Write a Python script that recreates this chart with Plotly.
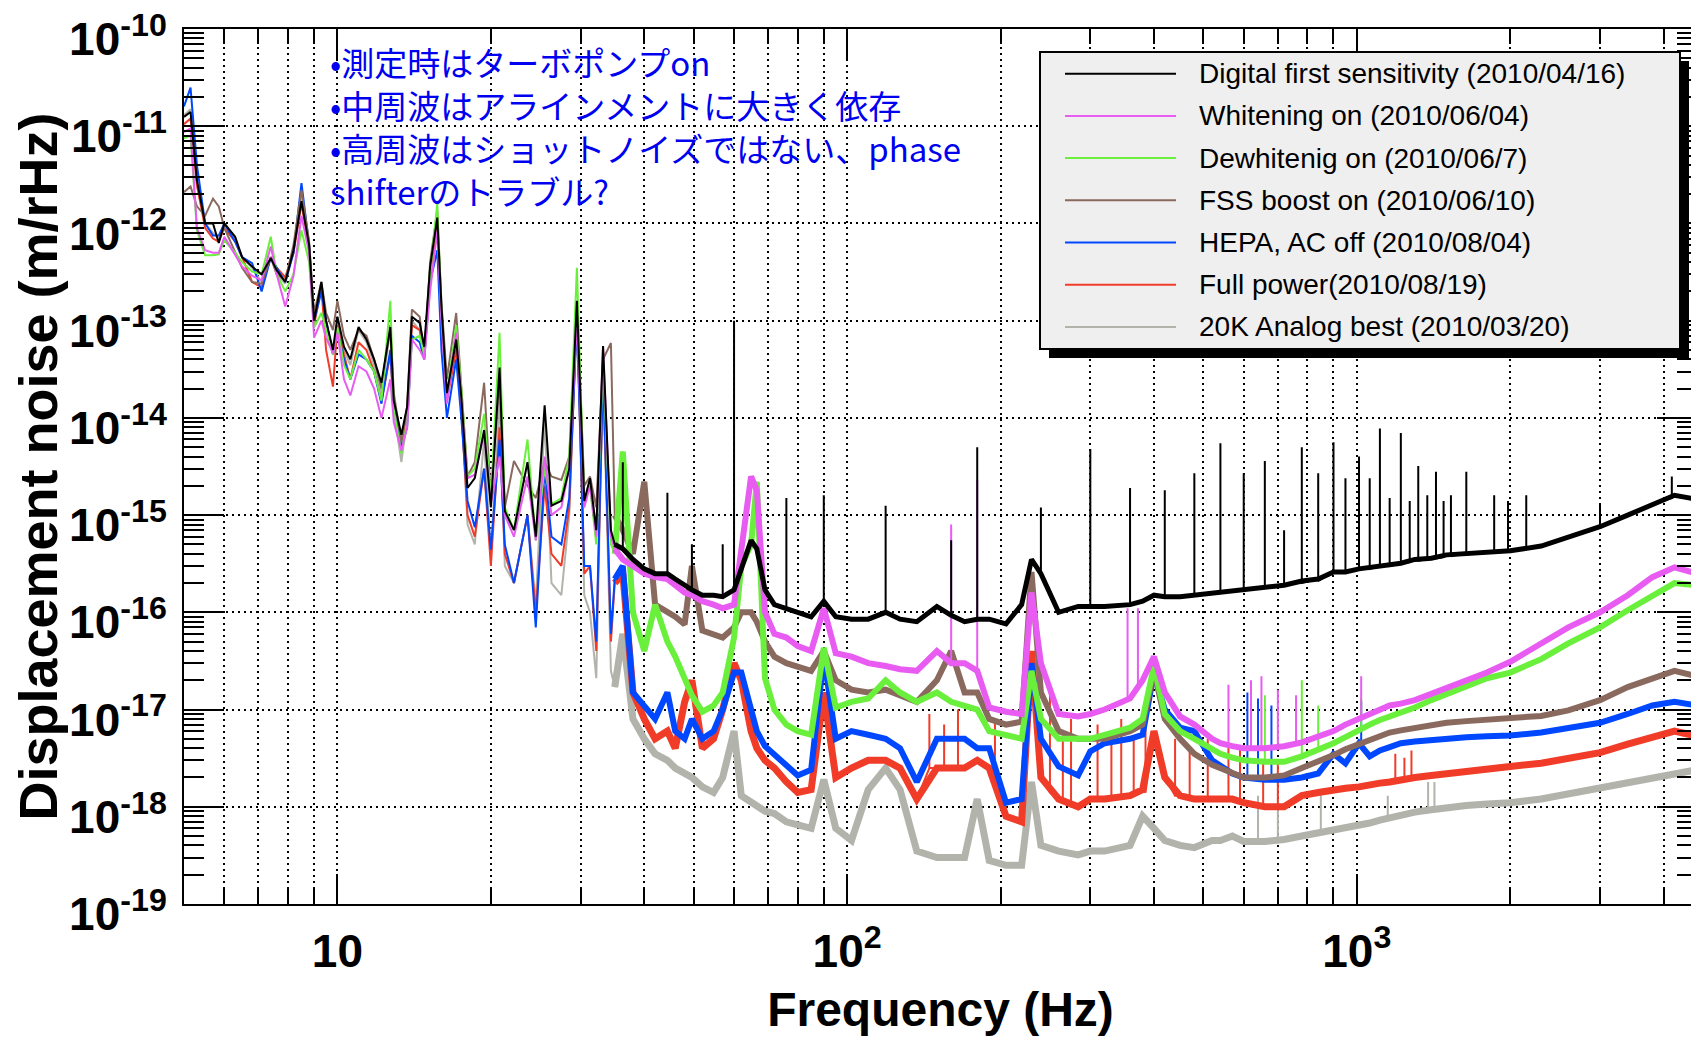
import plotly.graph_objects as go

# ---------------- data ----------------
FREQ = [5.0, 5.15, 5.3, 5.5, 5.7, 5.85, 6.0, 6.3, 6.5, 6.8,
        7.1, 7.4, 7.6, 7.9, 8.2, 8.5, 8.8, 9.0, 9.3, 9.5,
        9.8, 10.0, 10.3, 10.6, 11.0, 11.4, 11.8, 12.2, 12.7, 12.9,
        13.35, 13.7, 14.0, 14.5, 14.8, 15.2, 15.7, 16.0, 16.4, 17.1,
        17.5, 18.0, 18.6, 19.4, 20.0, 20.8, 21.3, 22.2, 23.6, 24.5,
        25.5, 26.3, 27.5, 28.5, 29.5, 30.5, 31.3, 32.2, 33.2, 34.4,
        35.0, 36.3, 38.0, 40.0, 42.0, 44.4, 46.0, 48.0, 49.6, 52.0,
        54.7, 57.0, 60.0, 62.0, 64.8, 66.5, 69.0, 72.0, 76.0, 80.0,
        85.0, 90.0, 95.0, 102.0, 110.0, 119.0, 127.0, 137.0, 150.0, 160.0,
        170.0, 180.0, 190.0, 205.0, 220.0, 230.0, 240.0, 260.0, 284.0, 300.0,
        320.0, 359.0, 380.0, 400.0, 420.0, 450.0, 480.0, 520.0, 540.0, 570.0,
        600.0, 660.0, 720.0, 780.0, 840.0, 900.0, 950.0, 1010.0, 1060.0, 1110.0,
        1160.0, 1220.0, 1300.0, 1400.0, 1500.0, 1640.0, 1800.0, 2000.0, 2300.0, 2600.0,
        3000.0, 3400.0, 3800.0, 4200.0, 4650.0]

DIGITAL_FIRST = [
    1.25e-11, 1.4e-11, 2.8e-12, 1.0e-12, 1.0e-12, 6.3e-13, 1.0e-12, 7.3e-13, 4.5e-13, 3.6e-13,
    3.0e-13, 4.4e-13, 3.3e-13, 2.5e-13, 5.3e-13, 1.7e-12, 6.0e-13, 1.0e-13, 2.5e-13, 1.0e-13,
    5.0e-14, 1.1e-13, 5.4e-14, 4.0e-14, 8.6e-14, 6.4e-14, 4.0e-14, 2.3e-14, 8.6e-14, 1.5e-14,
    6.7e-15, 1.3e-14, 1.1e-13, 9.5e-14, 5.4e-14, 3.6e-13, 1.15e-12, 1.4e-13, 1.8e-14, 6.4e-14,
    1.65e-14, 1.9e-15, 2.4e-15, 7.5e-15, 1.2e-15, 3.3e-14, 1.1e-15, 7.0e-16, 3.5e-15, 6.0e-16,
    1.35e-14, 1.25e-15, 1.4e-15, 3.0e-15, 1.6e-13, 1.4e-15, 2.4e-15, 7.0e-16, 5.5e-14, 7.0e-16,
    5.0e-16, 4.5e-16, 3.5e-16, 2.8e-16, 2.5e-16, 2.5e-16, 2.2e-16, 1.9e-16, 1.7e-16, 1.5e-16,
    1.5e-16, 1.45e-16, 1.7e-16, 2.8e-16, 5.5e-16, 4.5e-16, 1.7e-16, 1.2e-16, 1.1e-16, 1.0e-16,
    9.0e-17, 1.3e-16, 9.0e-17, 8.5e-17, 8.5e-17, 1.0e-16, 8.5e-17, 8.0e-17, 1.15e-16, 9.3e-17,
    8.0e-17, 8.5e-17, 8.5e-17, 7.6e-17, 1.2e-16, 3.5e-16, 2.5e-16, 1.0e-16, 1.15e-16, 1.15e-16,
    1.15e-16, 1.2e-16, 1.3e-16, 1.5e-16, 1.45e-16, 1.45e-16, 1.5e-16, 1.6e-16, 1.6e-16, 1.65e-16,
    1.7e-16, 1.8e-16, 1.9e-16, 2.1e-16, 2.2e-16, 2.6e-16, 2.6e-16, 2.8e-16, 2.9e-16, 3.0e-16,
    3.1e-16, 3.2e-16, 3.5e-16, 3.6e-16, 3.9e-16, 4.0e-16, 4.2e-16, 4.3e-16, 4.8e-16, 5.9e-16,
    7.6e-16, 1.0e-15, 1.3e-15, 1.6e-15, 1.45e-15]

WHITENING_ON = [
    8.7e-12, 9.5e-12, 9.0e-13, 5.3e-13, 5.0e-13, 5.0e-13, 7.3e-13, 4.8e-13, 3.6e-13, 2.9e-13,
    2.6e-13, 5.8e-13, 3.0e-13, 1.4e-13, 2.9e-13, 1.2e-12, 5.0e-13, 6.7e-14, 1.0e-13, 6.7e-14,
    4.6e-14, 7.5e-14, 2.5e-14, 1.7e-14, 3.4e-14, 3.0e-14, 2.0e-14, 1.0e-14, 2.5e-14, 9.0e-15,
    4.6e-15, 8.0e-15, 6.4e-14, 5.0e-14, 4.0e-14, 2.0e-13, 8.5e-13, 1.0e-13, 1.4e-14, 7.5e-14,
    1.5e-14, 2.4e-15, 2.6e-15, 7.0e-15, 1.3e-15, 4.0e-15, 1.0e-15, 6.0e-16, 2.5e-15, 5.5e-16,
    4.0e-15, 1.0e-15, 1.2e-15, 3.0e-15, 1.0e-13, 1.2e-15, 2.0e-15, 6.0e-16, 5.4e-14, 6.0e-16,
    4.5e-16, 3.5e-16, 3.0e-16, 2.5e-16, 2.3e-16, 2.2e-16, 1.9e-16, 1.6e-16, 1.5e-16, 1.3e-16,
    1.2e-16, 1.1e-16, 1.2e-16, 4.0e-16, 2.5e-15, 1.8e-15, 1.0e-16, 6.0e-17, 5.5e-17, 4.5e-17,
    4.0e-17, 1.1e-16, 3.8e-17, 3.5e-17, 3.0e-17, 2.8e-17, 2.6e-17, 2.5e-17, 4.0e-17, 3.0e-17,
    3.0e-17, 2.5e-17, 1.05e-17, 9.5e-18, 9.0e-18, 1.6e-16, 3.0e-17, 9.0e-18, 8.5e-18, 9.0e-18,
    1.0e-17, 1.3e-17, 2.0e-17, 3.5e-17, 1.5e-17, 8.5e-18, 7.0e-18, 5.0e-18, 4.5e-18, 4.2e-18,
    4.0e-18, 4.0e-18, 4.2e-18, 4.6e-18, 5.2e-18, 6.0e-18, 7.0e-18, 8.0e-18, 9.0e-18, 1.0e-17,
    1.1e-17, 1.15e-17, 1.25e-17, 1.45e-17, 1.65e-17, 2.0e-17, 2.4e-17, 3.1e-17, 4.8e-17, 7.0e-17,
    1.0e-16, 1.5e-16, 2.3e-16, 2.9e-16, 2.5e-16]

DEWHITENING_ON = [
    7.5e-12, 8.0e-12, 8.5e-13, 4.7e-13, 4.7e-13, 4.8e-13, 6.7e-13, 5.0e-13, 4.0e-13, 3.2e-13,
    3.0e-13, 7.3e-13, 3.0e-13, 2.0e-13, 3.0e-13, 8.5e-13, 4.0e-13, 8.5e-14, 1.2e-13, 8.0e-14,
    4.5e-14, 8.5e-14, 3.5e-14, 2.5e-14, 5.0e-14, 4.0e-14, 3.0e-14, 1.5e-14, 1.6e-13, 1.2e-14,
    4.3e-15, 9.0e-15, 6.4e-14, 7.0e-14, 4.5e-14, 3.0e-13, 1.6e-12, 1.2e-13, 1.7e-14, 9.0e-14,
    2.0e-14, 2.5e-15, 3.0e-15, 1.1e-14, 1.5e-15, 7.5e-14, 1.2e-15, 7.0e-16, 6.0e-15, 5.5e-16,
    3.0e-15, 1.3e-15, 1.5e-15, 4.0e-15, 3.5e-13, 1.3e-15, 2.0e-15, 5.0e-16, 4.0e-14, 5.0e-16,
    4.0e-16, 4.5e-15, 1.0e-16, 4.0e-17, 1.2e-16, 5.0e-17, 3.5e-17, 2.1e-17, 1.4e-17, 9.5e-18,
    1.1e-17, 1.5e-17, 5.5e-17, 3.0e-16, 5.0e-16, 2.2e-15, 2.1e-17, 1.0e-17, 7.0e-18, 6.0e-18,
    5.5e-18, 4.3e-17, 1.05e-17, 1.2e-17, 1.3e-17, 2.0e-17, 1.5e-17, 1.2e-17, 1.5e-17, 1.2e-17,
    1.1e-17, 1.0e-17, 6.0e-18, 5.5e-18, 5.0e-18, 2.5e-17, 8.0e-18, 5.0e-18, 5.0e-18, 5.0e-18,
    5.5e-18, 6.5e-18, 8.0e-18, 2.8e-17, 9.0e-18, 6.0e-18, 5.0e-18, 4.0e-18, 3.5e-18, 3.2e-18,
    3.0e-18, 2.9e-18, 2.9e-18, 3.3e-18, 3.8e-18, 4.5e-18, 5.2e-18, 6.2e-18, 7.0e-18, 7.8e-18,
    8.5e-18, 9.2e-18, 1.05e-17, 1.25e-17, 1.45e-17, 1.75e-17, 2.1e-17, 2.4e-17, 3.3e-17, 4.8e-17,
    7.0e-17, 1.05e-16, 1.5e-16, 2.0e-16, 1.9e-16]

FSS_BOOST_ON = [
    2.1e-12, 2.4e-12, 1.5e-12, 1.2e-12, 1.8e-12, 1.5e-12, 9.0e-13, 5.0e-13, 3.5e-13, 2.5e-13,
    2.4e-13, 4.5e-13, 3.0e-13, 2.6e-13, 6.0e-13, 2.2e-12, 6.5e-13, 1.2e-13, 2.5e-13, 1.2e-13,
    8.0e-14, 1.6e-13, 7.0e-14, 5.0e-14, 8.0e-14, 7.0e-14, 4.0e-14, 2.0e-14, 9.0e-14, 1.8e-14,
    5.6e-15, 1.3e-14, 1.3e-13, 1.1e-13, 4.0e-14, 4.0e-13, 1.35e-12, 1.5e-13, 2.5e-14, 1.2e-13,
    2.0e-14, 2.5e-15, 3.5e-15, 2.3e-14, 1.5e-15, 2.5e-14, 1.2e-15, 3.6e-15, 2.0e-15, 1.5e-15,
    3.5e-15, 2.5e-15, 2.3e-15, 4.0e-15, 1.5e-13, 2.0e-15, 2.5e-15, 1.2e-15, 4.0e-14, 5.9e-14,
    1.0e-15, 7.0e-16, 4.0e-16, 2.2e-15, 1.2e-16, 1.0e-16, 9.0e-17, 7.5e-17, 3.0e-16, 6.5e-17,
    6.0e-17, 5.5e-17, 7.0e-17, 1.0e-16, 1.0e-16, 8.0e-17, 5.0e-17, 3.5e-17, 3.0e-17, 2.8e-17,
    2.5e-17, 4.0e-17, 2.0e-17, 1.6e-17, 1.5e-17, 1.6e-17, 1.4e-17, 1.2e-17, 2.0e-17, 4.0e-17,
    1.5e-17, 1.5e-17, 8.0e-18, 7.0e-18, 7.5e-18, 2.6e-16, 1.5e-17, 6.0e-18, 5.0e-18, 5.0e-18,
    5.0e-18, 6.0e-18, 7.0e-18, 2.5e-17, 8.0e-18, 5.0e-18, 3.5e-18, 2.7e-18, 2.5e-18, 2.3e-18,
    2.0e-18, 2.0e-18, 2.1e-18, 2.5e-18, 2.9e-18, 3.4e-18, 3.9e-18, 4.4e-18, 5.0e-18, 5.4e-18,
    5.8e-18, 6.1e-18, 6.5e-18, 7.0e-18, 7.3e-18, 7.6e-18, 7.8e-18, 8.0e-18, 8.6e-18, 9.8e-18,
    1.25e-17, 1.7e-17, 2.1e-17, 2.5e-17, 2.2e-17]

HEPA_AC_OFF = [
    1.6e-11, 2.5e-11, 4.0e-12, 1.0e-12, 7.5e-13, 7.5e-13, 1.0e-12, 6.5e-13, 4.5e-13, 3.9e-13,
    2.0e-13, 4.5e-13, 3.5e-13, 2.5e-13, 5.0e-13, 2.6e-12, 6.0e-13, 1.0e-13, 2.0e-13, 1.0e-13,
    4.5e-14, 8.0e-14, 4.0e-14, 2.5e-14, 4.5e-14, 4.0e-14, 3.0e-14, 1.4e-14, 5.0e-14, 1.2e-14,
    5.0e-15, 8.0e-15, 7.0e-14, 6.0e-14, 4.0e-14, 2.5e-13, 5.3e-13, 5.0e-14, 1.0e-14, 4.0e-14,
    1.0e-14, 1.4e-15, 7.5e-16, 3.0e-15, 4.4e-16, 6.0e-15, 5.0e-16, 2.0e-16, 1.0e-15, 7.0e-17,
    3.0e-15, 6.0e-16, 5.0e-16, 1.5e-15, 1.0e-13, 3.0e-16, 3.0e-16, 5.0e-17, 3.0e-14, 6.0e-17,
    2.2e-16, 3.0e-16, 1.5e-17, 1.1e-17, 8.0e-18, 1.5e-17, 6.0e-18, 5.0e-18, 8.0e-18, 5.0e-18,
    6.0e-18, 1.0e-17, 2.4e-17, 2.4e-17, 9.5e-18, 6.0e-18, 4.2e-18, 3.4e-18, 2.6e-18, 2.1e-18,
    2.4e-18, 3.5e-17, 5.0e-18, 6.0e-18, 5.5e-18, 5.0e-18, 4.0e-18, 1.8e-18, 5.0e-18, 5.0e-18,
    5.0e-18, 4.0e-18, 4.0e-18, 1.1e-18, 1.2e-18, 3.0e-17, 5.0e-18, 2.6e-18, 2.1e-18, 3.7e-18,
    4.5e-18, 5.0e-18, 5.5e-18, 2.4e-17, 1.0e-17, 6.5e-18, 6.0e-18, 3.0e-18, 2.6e-18, 2.2e-18,
    2.0e-18, 1.9e-18, 1.9e-18, 2.0e-18, 2.2e-18, 3.5e-18, 2.8e-18, 4.5e-18, 3.3e-18, 3.8e-18,
    4.1e-18, 4.5e-18, 4.7e-18, 4.9e-18, 5.0e-18, 5.2e-18, 5.3e-18, 5.4e-18, 5.8e-18, 6.5e-18,
    7.3e-18, 9.0e-18, 1.1e-17, 1.2e-17, 1.1e-17]

FULL_POWER = [
    1.05e-11, 1.2e-11, 2.5e-12, 9.0e-13, 7.0e-13, 6.5e-13, 9.0e-13, 6.5e-13, 4.5e-13, 2.5e-13,
    2.2e-13, 4.5e-13, 3.5e-13, 2.8e-13, 5.0e-13, 1.6e-12, 5.5e-13, 9.0e-14, 2.2e-13, 5.0e-14,
    2.1e-14, 9.0e-14, 4.5e-14, 2.5e-14, 6.0e-14, 5.0e-14, 3.0e-14, 1.5e-14, 4.5e-14, 1.2e-14,
    5.5e-15, 1.1e-14, 9.0e-14, 8.0e-14, 4.5e-14, 3.0e-13, 1.0e-12, 1.2e-13, 1.5e-14, 5.0e-14,
    1.2e-14, 1.0e-15, 6.0e-16, 3.0e-15, 3.0e-16, 8.0e-15, 4.0e-16, 2.0e-16, 1.0e-15, 1.0e-16,
    2.0e-15, 4.0e-16, 3.0e-16, 1.2e-15, 1.2e-13, 2.5e-16, 3.0e-16, 4.0e-17, 3.0e-14, 5.0e-17,
    2.0e-16, 2.5e-16, 1.5e-17, 8.0e-18, 5.0e-18, 6.0e-18, 4.0e-18, 1.2e-17, 2.0e-17, 4.0e-18,
    5.0e-18, 1.0e-17, 3.0e-17, 2.0e-17, 6.0e-18, 4.0e-18, 3.0e-18, 2.5e-18, 1.8e-18, 1.4e-18,
    1.5e-18, 1.5e-17, 2.0e-18, 2.5e-18, 3.0e-18, 3.0e-18, 2.5e-18, 1.2e-18, 2.5e-18, 2.5e-18,
    2.5e-18, 3.0e-18, 2.5e-18, 8.0e-19, 7.0e-19, 4.0e-17, 2.0e-18, 1.2e-18, 1.0e-18, 1.2e-18,
    1.2e-18, 1.3e-18, 1.5e-18, 6.0e-18, 2.0e-18, 1.3e-18, 1.2e-18, 1.2e-18, 1.2e-18, 1.2e-18,
    1.1e-18, 1.0e-18, 1.0e-18, 1.3e-18, 1.4e-18, 1.5e-18, 1.55e-18, 1.6e-18, 1.7e-18, 1.75e-18,
    1.8e-18, 1.9e-18, 2.0e-18, 2.1e-18, 2.2e-18, 2.3e-18, 2.45e-18, 2.6e-18, 2.8e-18, 3.2e-18,
    3.6e-18, 4.4e-18, 5.3e-18, 6.0e-18, 5.3e-18]

ANALOG_20K = [
    1.3e-11, 1.5e-11, 2.5e-12, 1.0e-12, 8.0e-13, 7.0e-13, 1.0e-12, 7.0e-13, 4.5e-13, 3.5e-13,
    2.5e-13, 4.5e-13, 3.0e-13, 2.4e-13, 5.0e-13, 1.9e-12, 6.0e-13, 1.1e-13, 2.4e-13, 1.0e-13,
    4.5e-14, 1.0e-13, 5.0e-14, 3.5e-14, 8.0e-14, 6.0e-14, 3.5e-14, 1.8e-14, 8.0e-14, 1.2e-14,
    3.5e-15, 1.0e-14, 1.0e-13, 8.0e-14, 4.5e-14, 3.5e-13, 1.2e-12, 1.2e-13, 1.6e-14, 6.0e-14,
    1.5e-14, 8.0e-16, 5.0e-16, 6.0e-15, 4.0e-16, 1.5e-14, 3.0e-16, 2.0e-16, 1.0e-15, 1.2e-16,
    1.0e-14, 2.0e-16, 1.5e-16, 1.0e-15, 1.3e-13, 1.5e-16, 1.0e-16, 2.1e-17, 3.0e-14, 2.5e-17,
    1.7e-17, 6.0e-17, 8.0e-18, 5.0e-18, 3.5e-18, 3.0e-18, 2.5e-18, 2.2e-18, 2.0e-18, 1.6e-18,
    1.4e-18, 2.0e-18, 6.0e-18, 1.3e-18, 1.1e-18, 1.0e-18, 9.0e-19, 8.5e-19, 7.0e-19, 6.5e-19,
    6.0e-19, 1.9e-18, 6.0e-19, 4.5e-19, 1.5e-18, 2.5e-18, 1.5e-18, 3.5e-19, 3.0e-19, 3.0e-19,
    3.0e-19, 1.2e-18, 2.8e-19, 2.5e-19, 2.5e-19, 1.8e-18, 4.0e-19, 3.5e-19, 3.2e-19, 3.5e-19,
    3.5e-19, 4.0e-19, 8.0e-19, 6.0e-19, 4.5e-19, 4.0e-19, 3.8e-19, 4.5e-19, 4.5e-19, 5.0e-19,
    4.4e-19, 4.4e-19, 4.6e-19, 5.0e-19, 5.4e-19, 5.8e-19, 6.0e-19, 6.3e-19, 6.8e-19, 7.3e-19,
    7.7e-19, 8.3e-19, 8.8e-19, 9.3e-19, 9.8e-19, 1.03e-18, 1.07e-18, 1.1e-18, 1.2e-18, 1.35e-18,
    1.6e-18, 1.8e-18, 2.0e-18, 2.2e-18, 2.4e-18]

# narrow spectral lines (frequency, floor under the line, top of the line)
DIGITAL_SPIKE_F = [36.3, 44.4, 49.6, 57.0, 60.0, 76.0, 90.0, 119.0, 160.0, 180.0,
                   240.0, 300.0, 359.0, 420.0, 480.0, 540.0, 600.0, 660.0, 720.0, 780.0,
                   840.0, 900.0, 950.0, 1010.0, 1060.0, 1110.0, 1160.0, 1220.0, 1270.0, 1320.0,
                   1375.0, 1430.0, 1480.0, 1530.0, 1640.0, 1860.0, 1980.0, 2150.0, 3000.0, 4150.0]
DIGITAL_SPIKE_BASE = [4.5e-16, 2.5e-16, 1.7e-16, 1.45e-16, 1.7e-16, 1.1e-16, 1.3e-16, 1.0e-16, 9.3e-17, 8.5e-17,
                      2.5e-16, 1.15e-16, 1.2e-16, 1.45e-16, 1.5e-16, 1.6e-16, 1.7e-16, 1.8e-16, 1.9e-16, 2.0e-16,
                      2.1e-16, 2.6e-16, 2.6e-16, 2.8e-16, 2.8e-16, 3.0e-16, 3.0e-16, 3.2e-16, 3.3e-16, 3.4e-16,
                      3.5e-16, 3.6e-16, 3.7e-16, 3.8e-16, 4.0e-16, 4.2e-16, 4.3e-16, 4.5e-16, 7.6e-16, 1.5e-15]
DIGITAL_SPIKE_TOP = [3.5e-15, 1.7e-15, 5.0e-16, 5.0e-16, 1.0e-13, 1.5e-15, 1.6e-15, 1.25e-15, 5.5e-16, 5.0e-15,
                     1.2e-15, 4.8e-15, 1.9e-15, 1.8e-15, 2.7e-15, 5.5e-15, 2.7e-15, 3.6e-15, 7.0e-16, 5.0e-15,
                     2.7e-15, 5.6e-15, 2.4e-15, 4.0e-15, 2.4e-15, 7.8e-15, 1.5e-15, 7.0e-15, 1.4e-15, 3.2e-15,
                     1.6e-15, 2.8e-15, 1.4e-15, 1.6e-15, 2.8e-15, 1.6e-15, 1.4e-15, 1.6e-15, 1.3e-15, 2.5e-15]

WHITENING_SPIKE_F = [160.0, 180.0, 355.0, 372.0, 560.0, 620.0, 650.0, 700.0, 760.0, 1020.0]
WHITENING_SPIKE_BASE = [3.0e-17, 2.5e-17, 1.3e-17, 1.8e-17, 4.5e-18, 4.0e-18, 4.0e-18, 4.2e-18, 4.5e-18, 8.2e-18]
WHITENING_SPIKE_TOP = [8.0e-16, 2.3e-15, 1.1e-16, 1.1e-16, 1.8e-17, 2.0e-17, 2.2e-17, 1.6e-17, 1.4e-17, 2.2e-17]

DEWHITENING_SPIKE_F = [660.0, 780.0, 840.0, 1020.0]
DEWHITENING_SPIKE_BASE = [2.9e-18, 3.3e-18, 3.8e-18, 6.2e-18]
DEWHITENING_SPIKE_TOP = [1.4e-17, 2.0e-17, 1.1e-17, 1.3e-17]

HEPA_SPIKE_F = [610.0, 640.0, 680.0, 1020.0]
HEPA_SPIKE_BASE = [2.0e-18, 2.0e-18, 1.9e-18, 4.0e-18]
HEPA_SPIKE_TOP = [1.5e-17, 1.3e-17, 1.1e-17, 1.2e-17]

FULL_POWER_SPIKE_F = [145.0, 155.0, 165.0, 195.0, 250.0, 265.0, 275.0, 310.0, 330.0, 345.0,
                      365.0, 385.0, 440.0, 470.0, 510.0, 560.0, 590.0, 655.0, 700.0, 1190.0,
                      1240.0, 1280.0]
FULL_POWER_SPIKE_BASE = [2.5e-18, 2.6e-18, 2.5e-18, 2.5e-18, 1.4e-18, 1.1e-18, 1.0e-18, 1.2e-18, 1.2e-18, 1.25e-18,
                         1.3e-18, 1.4e-18, 1.3e-18, 1.2e-18, 1.2e-18, 1.2e-18, 1.2e-18, 1.0e-18, 1.0e-18, 1.85e-18,
                         1.9e-18, 2.0e-18]
FULL_POWER_SPIKE_TOP = [9.0e-18, 7.0e-18, 1.0e-17, 8.0e-18, 1.5e-17, 5.0e-18, 8.0e-18, 7.0e-18, 6.0e-18, 8.0e-18,
                        5.0e-18, 7.0e-18, 5.0e-18, 4.0e-18, 5.0e-18, 4.5e-18, 4.0e-18, 3.0e-18, 2.8e-18, 3.5e-18,
                        3.2e-18, 3.8e-18]

ANALOG_SPIKE_F = [640.0, 700.0, 850.0, 1150.0, 1380.0, 1420.0]
ANALOG_SPIKE_BASE = [4.4e-19, 4.6e-19, 5.4e-19, 7.6e-19, 9.2e-19, 9.3e-19]
ANALOG_SPIKE_TOP = [1.3e-18, 1.1e-18, 1.4e-18, 1.3e-18, 1.8e-18, 1.8e-18]

SERIES_NAMES = ["Digital first sensitivity (2010/04/16)",
                "Whitening on (2010/06/04)",
                "Dewhitenig on (2010/06/7)",
                "FSS boost on (2010/06/10)",
                "HEPA, AC off (2010/08/04)",
                "Full power(2010/08/19)",
                "20K Analog best (2010/03/20)"]
SERIES_COLORS = ["#000000", "#e85cf2", "#6af03c", "#8a6a5e", "#0048ff", "#f03c28", "#b2b4ac"]

X_TICK_VALS = [10, 100, 1000]
X_TICK_TEXT = ["10", "10<sup>2</sup>", "10<sup>3</sup>"]
Y_EXPONENTS = [-19, -18, -17, -16, -15, -14, -13, -12, -11, -10]

NOTE_LINES = ["•測定時はターボポンプon",
              "•中周波はアラインメントに大きく依存",
              "•高周波はショットノイズではない、phase",
              "shifterのトラブル?"]

# ---------------- figure ----------------
series_values = [DIGITAL_FIRST, WHITENING_ON, DEWHITENING_ON, FSS_BOOST_ON,
                 HEPA_AC_OFF, FULL_POWER, ANALOG_20K]
series_spikes = [(DIGITAL_SPIKE_F, DIGITAL_SPIKE_BASE, DIGITAL_SPIKE_TOP),
                 (WHITENING_SPIKE_F, WHITENING_SPIKE_BASE, WHITENING_SPIKE_TOP),
                 (DEWHITENING_SPIKE_F, DEWHITENING_SPIKE_BASE, DEWHITENING_SPIKE_TOP),
                 ([], [], []),
                 (HEPA_SPIKE_F, HEPA_SPIKE_BASE, HEPA_SPIKE_TOP),
                 (FULL_POWER_SPIKE_F, FULL_POWER_SPIKE_BASE, FULL_POWER_SPIKE_TOP),
                 (ANALOG_SPIKE_F, ANALOG_SPIKE_BASE, ANALOG_SPIKE_TOP)]
# the spectra turn into dense noise bands above ~35 Hz
NOISY_FROM = 60
BAND_WIDTH = [5, 6, 6, 6, 6, 7, 7]

for v in series_values:
    assert len(v) == len(FREQ), (len(v), len(FREQ))


def build(vals, spikes):
    pts = [(f, 0, v) for f, v in zip(FREQ, vals)]
    for f, b, t in zip(*spikes):
        pts += [(f, 1, b), (f, 2, t), (f, 3, b)]
    pts.sort(key=lambda p: (p[0], p[1]))
    return [p[0] for p in pts], [p[2] for p in pts]


fig = go.Figure()
draw_order = [6, 5, 4, 3, 2, 1, 0]
for i in draw_order:
    vals = series_values[i]
    fig.add_trace(go.Scatter(x=FREQ[NOISY_FROM:], y=vals[NOISY_FROM:], mode="lines",
                             name=SERIES_NAMES[i], hoverinfo="skip",
                             line=dict(color=SERIES_COLORS[i], width=BAND_WIDTH[i]),
                             showlegend=False))
    xs, ys = build(vals, series_spikes[i])
    fig.add_trace(go.Scatter(x=xs, y=ys, mode="lines", name=SERIES_NAMES[i],
                             line=dict(color=SERIES_COLORS[i], width=2),
                             showlegend=False))

# the page body adds an 8 px offset; the plot area is placed to match the original
OFF = 8
W, H = 1690, 1028
PL, PR, PT, PB = 184, 1697, 29, 904          # plot area in window pixels
L, T = PL - OFF, PT - OFF
R, B = OFF + W - PR, OFF + H - PB
PW, PH = W - L - R, H - T - B


def px(xp):
    return (xp - PL) / PW


def py(yp):
    return (PB - yp) / PH


shapes = []
annotations = []

# legend box (drawn like the original: shadow + grey box)
bx0, bx1, by0, by1 = 1040, 1680, 52, 349
shapes.append(dict(type="rect", xref="paper", yref="paper",
                   x0=px(bx0 + 9), x1=px(bx1 + 9), y0=py(by1 + 9), y1=py(by0 + 9),
                   fillcolor="black", line=dict(width=0), layer="above"))
shapes.append(dict(type="rect", xref="paper", yref="paper",
                   x0=px(bx0), x1=px(bx1), y0=py(by1), y1=py(by0),
                   fillcolor="#efefef", line=dict(color="black", width=2), layer="above"))
for i, (name, col) in enumerate(zip(SERIES_NAMES, SERIES_COLORS)):
    yc = 73.7 + 42.2 * i
    shapes.append(dict(type="line", xref="paper", yref="paper",
                       x0=px(1065), x1=px(1176), y0=py(yc), y1=py(yc),
                       line=dict(color=col, width=2), layer="above"))
    annotations.append(dict(xref="paper", yref="paper", x=px(1197), y=py(yc),
                            xanchor="left", yanchor="middle", showarrow=False,
                            text=name,
                            font=dict(family="Liberation Sans, Arial",
                                      size=28, color="black")))

annotations.append(dict(xref="paper", yref="paper", x=px(328), y=py(36),
                        xanchor="left", yanchor="top", align="left", showarrow=False,
                        text="<br>".join(NOTE_LINES),
                        font=dict(family="Noto Sans CJK JP", size=33, color="#0000f0")))

x_minor = []
for dec in [1, 10, 100, 1000]:
    for k in range(2, 10):
        v = k * dec
        if 5 < v < 4650 and v not in X_TICK_VALS:
            x_minor.append(v)

y_major = [10.0 ** e for e in Y_EXPONENTS]
y_text = ["10<sup>%d</sup>" % e for e in Y_EXPONENTS]
y_minor = [k * 10.0 ** e for e in Y_EXPONENTS[:-1] for k in range(2, 10)]

tick_font = dict(family="Liberation Sans, Arial", size=46, color="black", weight="bold")

fig.update_layout(
    width=W, height=H,
    margin=dict(l=L, r=R, t=T, b=B, autoexpand=False),
    paper_bgcolor="white", plot_bgcolor="white",
    shapes=shapes, annotations=annotations,
    xaxis=dict(type="log", range=[0.69897, 3.66745],
               tickmode="array", tickvals=X_TICK_VALS, ticktext=X_TICK_TEXT,
               ticks="inside", ticklen=30, tickwidth=2, tickcolor="black",
               showgrid=True, gridcolor="black", gridwidth=1.5, griddash="2px,4px",
               minor=dict(tickmode="array", tickvals=x_minor, ticks="inside",
                          ticklen=15, tickwidth=2, tickcolor="black",
                          showgrid=True, gridcolor="black", gridwidth=1.5,
                          griddash="2px,4px"),
               showline=True, linecolor="black", linewidth=2, mirror="ticks",
               zeroline=False, tickfont=tick_font, ticklabelstandoff=6,
               title=dict(text="Frequency (Hz)",
                          font=dict(family="Liberation Sans, Arial", size=48,
                                    color="black", weight="bold"), standoff=30)),
    yaxis=dict(type="log", range=[-19.0004, -9.9996],
               tickmode="array", tickvals=y_major, ticktext=y_text,
               ticks="inside", ticklen=40, tickwidth=2, tickcolor="black",
               showgrid=True, gridcolor="black", gridwidth=1.5, griddash="2px,4px",
               minor=dict(tickmode="array", tickvals=y_minor, ticks="inside",
                          ticklen=20, tickwidth=2, tickcolor="black", showgrid=False),
               showline=True, linecolor="black", linewidth=2, mirror="ticks",
               zeroline=False, tickfont=tick_font, ticklabelstandoff=6,
               ticklabelshift=10, ticklabeloverflow="allow",
               title=dict(text="Displacement noise (m/rHz)",
                          font=dict(family="Liberation Sans, Arial", size=54,
                                    color="black", weight="bold"), standoff=8)),
)

fig.write_html("out.html")
